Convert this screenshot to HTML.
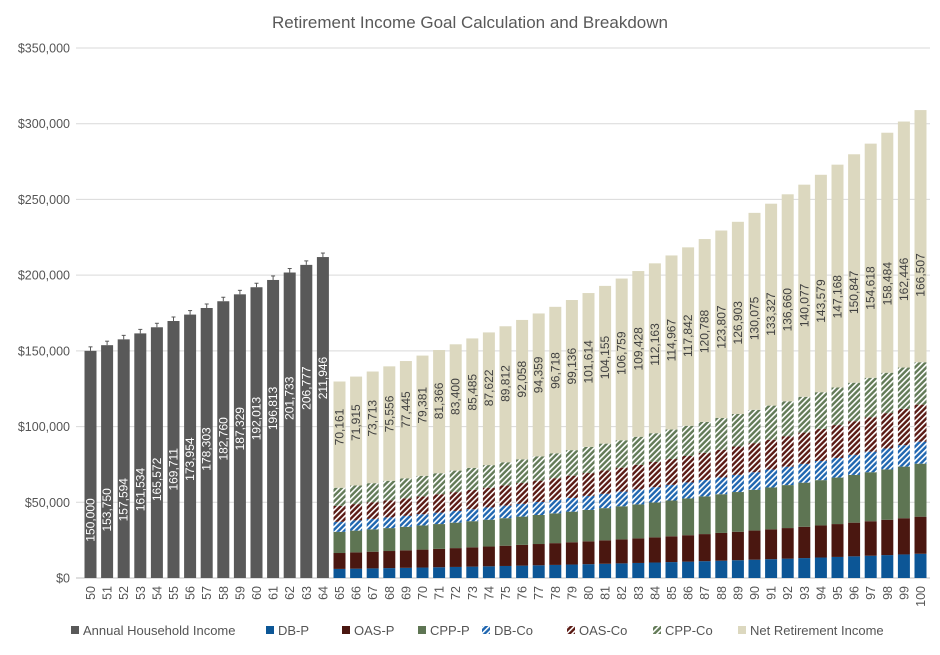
<!DOCTYPE html>
<html><head><meta charset="utf-8"><style>
html,body{margin:0;padding:0;background:#fff;}
svg{display:block;font-family:"Liberation Sans",sans-serif;}
</style></head><body>
<svg id="c" width="940" height="655" xmlns="http://www.w3.org/2000/svg">
<defs>
<pattern id="hb" patternUnits="userSpaceOnUse" width="4" height="4" patternTransform="rotate(45)"><rect width="4" height="4" fill="#1f66b0"/><rect width="1.6" height="4" fill="#fff"/></pattern>
<pattern id="ho" patternUnits="userSpaceOnUse" width="4" height="4" patternTransform="rotate(45)"><rect width="4" height="4" fill="#5a1a14"/><rect width="1.6" height="4" fill="#fff"/></pattern>
<pattern id="hc" patternUnits="userSpaceOnUse" width="4" height="4" patternTransform="rotate(45)"><rect width="4" height="4" fill="#627a57"/><rect width="1.6" height="4" fill="#fff"/></pattern>
</defs>
<rect width="940" height="655" fill="#fff"/>
<text x="470" y="28" text-anchor="middle" font-size="17" fill="#595959">Retirement Income Goal Calculation and Breakdown</text>
<g id="g"></g>
</svg>
<script>
var g=document.getElementById('g'),s='';
var y0=578,k=(578-48)/350000;
function Y(v){return y0-v*k;}
for(var i=0;i<=7;i++){var y=Y(i*50000);
s+='<line x1="76" x2="930" y1="'+y+'" y2="'+y+'" stroke="'+(i?'#d9d9d9':'#bfbfbf')+'" stroke-width="1"/>';
s+='<text x="70" y="'+(y+4.5)+'" text-anchor="end" font-size="12.5" fill="#555">$'+(i?(i*50)+',000':'0')+'</text>';}
function X(a){return 90.5+16.6*(a-50);}
var w=12;
var L=[150000,153750,157594,161534,165572,169711,173954,178303,182760,187329,192013,196813,201733,206777,211946];
for(var i=0;i<L.length;i++){var a=50+i,x=X(a),v=L[i],t=Y(v);
s+='<rect x="'+(x-w/2)+'" y="'+t+'" width="'+w+'" height="'+(y0-t)+'" fill="#595959"/>';
s+='<line x1="'+x+'" x2="'+x+'" y1="'+(t-4)+'" y2="'+t+'" stroke="#595959"/><line x1="'+(x-2)+'" x2="'+(x+2)+'" y1="'+(t-4)+'" y2="'+(t-4)+'" stroke="#595959"/>';
var ly=520-(520-378)*i/14;
s+='<text transform="translate('+(x+4)+','+ly+') rotate(-90)" text-anchor="middle" font-size="12" fill="#fff">'+v.toLocaleString('en-US')+'</text>';}
var N=[70161,71915,73713,75556,77445,79381,81366,83400,85485,87622,89812,92058,94359,96718,99136,101614,104155,106759,109428,112163,114967,117842,120788,123807,126903,130075,133327,136660,140077,143579,147168,150847,154618,158484,162446,166507];
var C=[[6000,16000,'#0c5696'],[10500,24500,'#4a1710'],[14000,35000,'#5e7553'],[6600,14500,'url(#hb)'],[10500,24500,'url(#ho)'],[12000,28000,'url(#hc)']];
for(var i=0;i<36;i++){var a=65+i,x=X(a),cum=0;
for(var j=0;j<6;j++){var v=C[j][0]*Math.pow(C[j][1]/C[j][0],i/35);var b=Y(cum),t=Y(cum+v);
s+='<rect x="'+(x-w/2)+'" y="'+t+'" width="'+w+'" height="'+(b-t)+'" fill="'+C[j][2]+'"/>';cum+=v;}
var b=Y(cum),t=Y(cum+N[i]);
s+='<rect x="'+(x-w/2)+'" y="'+t+'" width="'+w+'" height="'+(b-t)+'" fill="#dcd8bf"/>';
var ly=427-(427-275)*i/35;
s+='<text transform="translate('+(x+4)+','+ly+') rotate(-90)" text-anchor="middle" font-size="12" fill="#404040">'+N[i].toLocaleString('en-US')+'</text>';}
for(var a=50;a<=100;a++){var x=X(a);
s+='<text transform="translate('+(x+4.5)+',586) rotate(-90)" text-anchor="end" font-size="12.5" fill="#555">'+a+'</text>';}
var lg=[[71,'#595959','Annual Household Income'],[266,'#0c5696','DB-P'],[342,'#4a1710','OAS-P'],[418,'#5e7553','CPP-P'],[482,'url(#hb)','DB-Co'],[567,'url(#ho)','OAS-Co'],[653,'url(#hc)','CPP-Co'],[738,'#dcd8bf','Net Retirement Income']];
lg.forEach(function(l){s+='<rect x="'+l[0]+'" y="626" width="8" height="8" fill="'+l[1]+'"/><text x="'+(l[0]+12)+'" y="635" font-size="13" fill="#555">'+l[2]+'</text>';});
g.innerHTML=s;
</script>
</body></html>
